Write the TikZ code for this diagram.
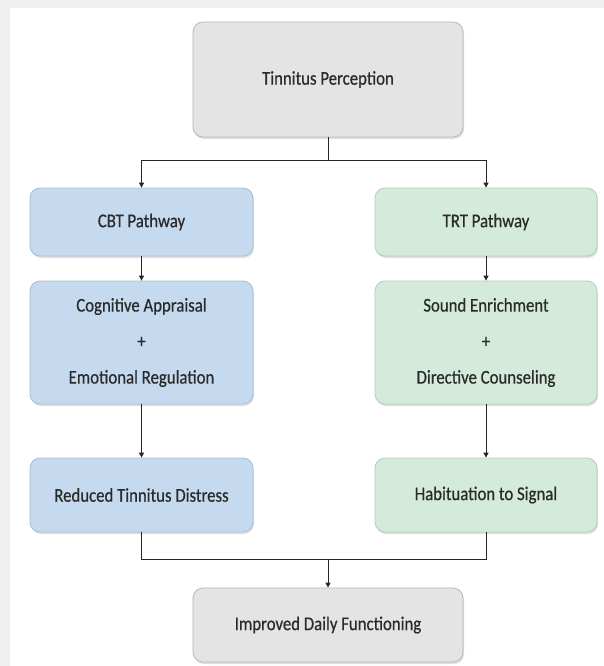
\documentclass[tikz,border=0pt]{standalone}
\usepackage{fontspec}
\setmainfont{Carlito}[FakeStretch=0.86,FakeBold=0.5]
\usetikzlibrary{arrows.meta,shadows}
\definecolor{bgout}{HTML}{EDEFF1}
\definecolor{grayfill}{HTML}{E4E4E4}
\definecolor{grayline}{HTML}{B8B8B8}
\definecolor{bluefill}{HTML}{C6DAEF}
\definecolor{blueline}{HTML}{A9BED6}
\definecolor{greenfill}{HTML}{D4EBDC}
\definecolor{greenline}{HTML}{B2CDBB}
\definecolor{txt}{HTML}{2A2A2A}
\tikzset{
  box/.style={rounded corners=10pt, draw, line width=0.8pt, align=center,
    text=txt, font=\fontsize{19.5}{36}\selectfont,
    drop shadow={shadow xshift=1pt, shadow yshift=-2pt, opacity=0.25, fill=gray}},
  graybox/.style={box, fill=grayfill, draw=grayline},
  bluebox/.style={box, fill=bluefill, draw=blueline},
  greenbox/.style={box, fill=greenfill, draw=greenline},
  conn/.style={line width=1pt, draw=black!85},
  arr/.style={conn, -{Triangle[length=5pt,width=5pt]}}
}
\begin{document}
\begin{tikzpicture}[x=1pt,y=-1pt]
\useasboundingbox (0,0) rectangle (604,666);
\fill[bgout] (0,0) rectangle (604,666);
\fill[white] (10,8) rectangle (604,666);
% nodes
\node[graybox, minimum width=270pt, minimum height=115pt] (top) at (328,79.5) {Tinnitus Perception};
\node[bluebox, minimum width=223pt, minimum height=68pt] (cbt) at (141.5,222) {CBT Pathway};
\node[greenbox, minimum width=222pt, minimum height=68pt] (trt) at (486,222) {TRT Pathway};
\node[bluebox, minimum width=223pt, minimum height=123pt] (cog) at (141.5,342.5) {Cognitive Appraisal\\+\\Emotional Regulation};
\node[greenbox, minimum width=222pt, minimum height=123pt] (snd) at (486,342.5) {Sound Enrichment\\+\\Directive Counseling};
\node[bluebox, minimum width=223pt, minimum height=74pt] (red) at (141.5,495) {Reduced Tinnitus Distress};
\node[greenbox, minimum width=222pt, minimum height=74pt] (hab) at (486,495) {Habituation to Signal};
\node[graybox, minimum width=270pt, minimum height=74pt] (imp) at (328,625) {Improved Daily Functioning};
\coordinate (split) at (328,160);
\coordinate (merge) at (328,559);
% connectors
\draw[conn] (top.south) -- (split);
\draw[arr] (split) -| (cbt.north);
\draw[arr] (split) -| (trt.north);
\draw[arr] (cbt) -- (cog);
\draw[arr] (trt) -- (snd);
\draw[arr] (cog) -- (red);
\draw[arr] (snd) -- (hab);
\draw[conn] (red.south) |- (merge);
\draw[conn] (hab.south) |- (merge);
\draw[arr] (merge) -- (imp.north);
\end{tikzpicture}
\end{document}
